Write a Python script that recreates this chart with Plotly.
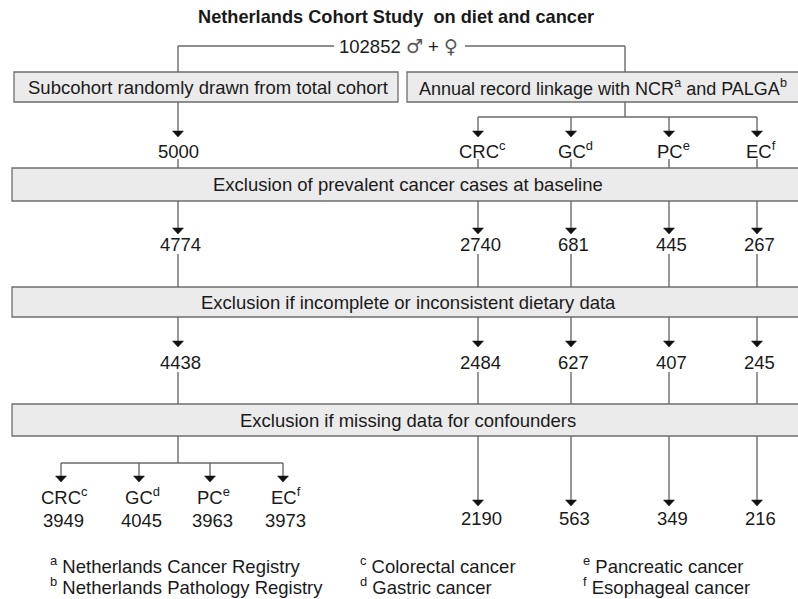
import plotly.graph_objects as go

# ---------------- data ----------------
title_text = "Netherlands Cohort Study  on diet and cancer"
total_cohort = 102852
box_texts = [
    "Subcohort randomly drawn from total cohort",
    "Annual record linkage with NCR<sup>a</sup> and PALGA<sup>b</sup>",
    "Exclusion of prevalent cancer cases at baseline",
    "Exclusion if incomplete or inconsistent dietary data",
    "Exclusion if missing data for confounders",
]
cancer_types = ["CRC", "GC", "PC", "EC"]
cancer_notes = ["c", "d", "e", "f"]
subcohort_counts = [5000, 4774, 4438]
subcohort_final = [3949, 4045, 3963, 3973]
cases_baseline = [2740, 681, 445, 267]
cases_diet = [2484, 627, 407, 245]
cases_final = [2190, 563, 349, 216]
footnote_letters = ["a", "b", "c", "d", "e", "f"]
footnote_texts = [
    "Netherlands Cancer Registry",
    "Netherlands Pathology Registry",
    "Colorectal cancer",
    "Gastric cancer",
    "Pancreatic cancer",
    "Esophageal cancer",
]

# ---------------- layout constants ----------------
W, H = 798, 599
FONT = "Liberation Sans, Arial, Helvetica, sans-serif"
TXT = "#1a1a1a"
LINE = "#6a6a6a"
BOX_FILL = "#ebebeb"
BOX_LINE = "#6e6e6e"
FS = 18.5

sub_x = 178
case_x = [478, 571, 669, 757]
sub_split_x = [61, 139, 210, 283]

shapes = []
annotations = []


def line(x0, y0, x1, y1):
    shapes.append(dict(type="line", xref="x", yref="y", x0=x0, y0=y0, x1=x1, y1=y1,
                       line=dict(color=LINE, width=1.4)))


def arrow(x, y0, tip):
    line(x, y0, x, tip - 3)
    shapes.append(dict(type="path", xref="x", yref="y",
                       path=f"M {x-5.5},{tip-6} L {x+5.5},{tip-6} L {x},{tip} Z",
                       fillcolor="#111111", line=dict(color="#111111", width=0.5)))


def box(x0, y0, x1, y1, text, tx=None, size=FS):
    shapes.append(dict(type="rect", xref="x", yref="y", x0=x0, y0=y0, x1=x1, y1=y1,
                       fillcolor=BOX_FILL, line=dict(color=BOX_LINE, width=1.3), layer="below"))
    annotations.append(dict(x=tx if tx is not None else (x0 + min(x1, 804)) / 2,
                            y=(y0 + y1) / 2, text=text,
                            showarrow=False, xref="x", yref="y",
                            font=dict(size=size, color=TXT, family=FONT)))


def label(x, y, text, bold=False, xanchor="center", size=FS):
    annotations.append(dict(x=x, y=y, text=f"<b>{text}</b>" if bold else text,
                            showarrow=False, xref="x", yref="y", xanchor=xanchor,
                            yanchor="middle",
                            font=dict(size=size, color=TXT, family=FONT)))


SYM = "<span style=\"font-family:'DejaVu Sans';font-size:19px;fill:#555555\">{}</span>"

# title and total
label(396, 17, title_text, bold=True, size=18.2)
label(398, 46, f"{total_cohort} " + SYM.format("♂") + " + " + SYM.format("♀"))
line(sub_x, 46, 334, 46)
line(465, 46, 625, 46)
line(sub_x, 46, sub_x, 72)
line(625, 46, 625, 72)

# first boxes
box(14, 72, 398, 102, box_texts[0], tx=208)
box(407, 72, 810, 102, box_texts[1], tx=603, size=18)

# subcohort branch top
arrow(sub_x, 102, 137)
label(sub_x, 151, f"{subcohort_counts[0]}")
line(sub_x, 159, sub_x, 168)

# cases branch top
line(625, 102, 625, 117)
line(case_x[0], 117, case_x[-1], 117)
for i, cx in enumerate(case_x):
    arrow(cx, 117, 137)
    label(cx + 4, 150, f"{cancer_types[i]}<sup>{cancer_notes[i]}</sup>")
    line(cx, 159, cx, 168)

# box 3
box(12, 168, 810, 201, box_texts[2])
cols = [sub_x] + case_x
row1 = [subcohort_counts[1]] + cases_baseline
for cx, v in zip(cols, row1):
    arrow(cx, 201, 234)
    label(cx + 2, 244, f"{v}")
    line(cx, 254, cx, 287)

# box 4
box(12, 287, 810, 317, box_texts[3])
row2 = [subcohort_counts[2]] + cases_diet
for cx, v in zip(cols, row2):
    arrow(cx, 317, 347)
    label(cx + 2, 362, f"{v}")
    line(cx, 372, cx, 404)

# box 5
box(12, 404, 810, 436, box_texts[4])

# subcohort final split
line(sub_x, 436, sub_x, 463)
line(sub_split_x[0], 463, sub_split_x[-1], 463)
for i, sx in enumerate(sub_split_x):
    arrow(sx, 463, 482)
    label(sx + 3, 496, f"{cancer_types[i]}<sup>{cancer_notes[i]}</sup>")
    label(sx + 2, 520, f"{subcohort_final[i]}")

# cases final
for cx, v in zip(case_x, cases_final):
    arrow(cx, 436, 506)
    label(cx + 3, 518, f"{v}")

# footnotes
foot_x = [48, 48, 358, 358, 581, 581]
foot_y = [565, 586, 565, 586, 565, 586]
for fx, fy, l, t in zip(foot_x, foot_y, footnote_letters, footnote_texts):
    label(fx, fy, f"<sup>{l}</sup> {t}", xanchor="left")

fig = go.Figure()
fig.update_layout(
    width=W, height=H,
    margin=dict(l=0, r=0, t=0, b=0),
    paper_bgcolor="white", plot_bgcolor="white",
    xaxis=dict(range=[0, W], visible=False, fixedrange=True),
    yaxis=dict(range=[H, 0], visible=False, fixedrange=True),
    shapes=shapes, annotations=annotations, showlegend=False,
)
fig.write_html(
    "out.html",
    config={"displayModeBar": False},
    post_script="document.body.style.margin='0';document.body.style.overflow='hidden';",
)
